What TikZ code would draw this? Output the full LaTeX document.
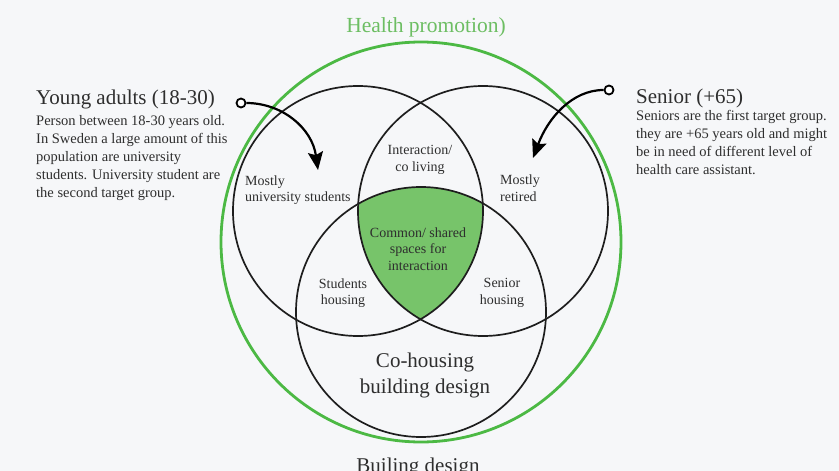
\documentclass[tikz,border=0pt]{standalone}
\usepackage{fontspec}
\setmainfont{Liberation Serif}
\usetikzlibrary{arrows.meta}
\definecolor{bgc}{HTML}{F6F7F9}
\definecolor{ring}{HTML}{4CB944}
\definecolor{fillg}{HTML}{77C46A}
\definecolor{ink}{HTML}{2E2E2E}
\definecolor{linec}{HTML}{1E1E1E}
\definecolor{titleg}{HTML}{6DBE63}
\begin{document}
\begin{tikzpicture}[x=1pt,y=-1pt,
  venn/.style={draw=linec,line width=1.7pt},
  outer/.style={draw=ring,line width=2.8pt},
  bigtitle/.style={font=\fontsize{21}{24}\selectfont,text=ink,inner sep=0pt},
  bodytext/.style={font=\fontsize{14.5}{18}\selectfont,text=ink,inner sep=0pt,align=left},
  intext/.style={font=\fontsize{14}{16.5}\selectfont,text=ink,inner sep=0pt},
  dot/.style={circle,draw=black,line width=1.8pt,fill=white,minimum size=9pt,inner sep=0pt},
  pointer/.style={draw=black,line width=2.2pt,-{Stealth[length=18pt,width=15pt,inset=3pt]}}]
\fill[bgc] (0,0) rectangle (839,471);
\useasboundingbox (0,0) rectangle (839,471);
% centres
\coordinate (cL) at (358,211);
\coordinate (cR) at (483,211);
\coordinate (cB) at (421,312);
\coordinate (cO) at (421,242);
% shared region
\begin{scope}
  \clip (cL) circle (125);
  \clip (cR) circle (125);
  \fill[fillg] (cB) circle (125);
\end{scope}
\draw[outer] (cO) circle (200);
\draw[venn] (cL) circle (125);
\draw[venn] (cR) circle (125);
\draw[venn] (cB) circle (125);
% titles
\node[bigtitle,text=titleg,font=\fontsize{21.5}{24}\selectfont] (hp) at (426,27) {Health promotion)};
\node[bigtitle,anchor=base] (bd) at (418,472) {Builing design};
\node[bigtitle,anchor=base west] (yt) at (36,104) {Young adults (18-30)};
\node[bodytext,anchor=north west] (yb) at (36,115) {Person between 18-30 years old.\\In Sweden a large amount of this\\population are university\\students. University student are\\the second target group.};
\node[bigtitle,anchor=base west] (st) at (636,103) {Senior (+65)};
\node[bodytext,anchor=north west] (sb) at (636,110) {Seniors are the first target group.\\they are +65 years old and might\\be in need of different level of\\health care assistant.};
% inner labels
\node[intext,align=center] (il) at (420,160) {Interaction/\\co living};
\node[intext,align=left,anchor=west] (mu) at (245,190) {Mostly\\university students};
\node[intext,align=left,anchor=west] (mr) at (500,188) {Mostly\\retired};
\node[intext,align=center] (cs) at (418,249) {Common/ shared\\spaces for\\interaction};
\node[intext,align=center] (sh) at (343,293) {Students\\housing};
\node[intext,align=center] (snh) at (502,293) {Senior\\housing};
\node[bigtitle,align=center,font=\fontsize{21}{26}\selectfont] (ch) at (425,375) {Co-housing\\building design};
% pointers
\node[dot] (dl) at (241,103) {};
\coordinate (tl) at (318,170);
\draw[pointer] (dl.east) .. controls (282,103) and (312,128) .. (tl);
\node[dot] (dr) at (609,90) {};
\coordinate (tr) at (533,158);
\draw[pointer] (dr.west) .. controls (572,90) and (548,118) .. (tr);
\end{tikzpicture}
\end{document}
